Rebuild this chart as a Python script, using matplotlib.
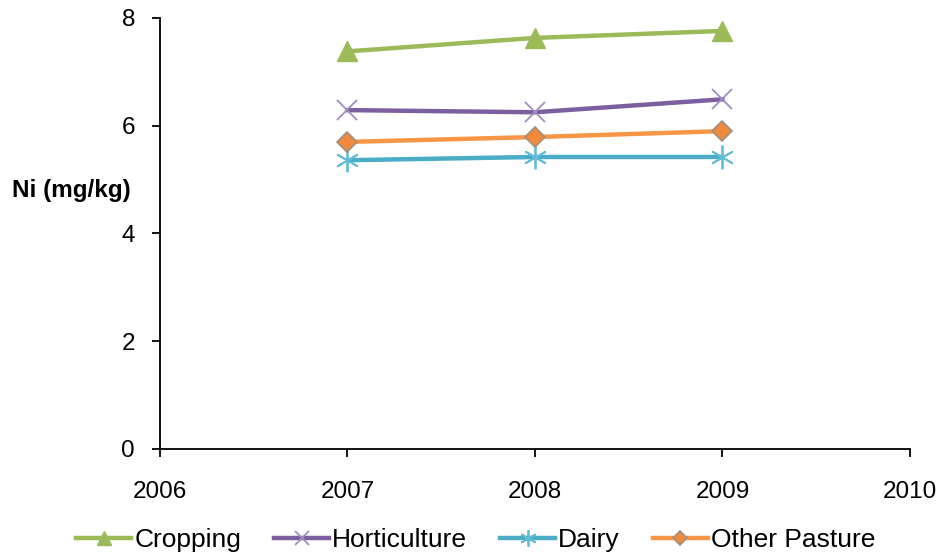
import matplotlib
matplotlib.use("Agg")
import matplotlib.pyplot as plt

plt.rcParams['font.family'] = ['Liberation Sans', 'DejaVu Sans']

years = [2007, 2008, 2009]
cropping = [7.38, 7.63, 7.76]
horticulture = [6.29, 6.25, 6.49]
dairy = [5.36, 5.42, 5.42]
other_pasture = [5.70, 5.79, 5.90]

x_ticks = [2006, 2007, 2008, 2009, 2010]
y_ticks = [0, 2, 4, 6, 8]

fig = plt.figure(figsize=(9.39, 5.55), dpi=100)
ax = fig.add_axes([0.1704, 0.191, 0.7986, 0.7766])

lw = 3.2
ax.plot(years, cropping, color='#9BBB59', lw=lw, marker='^', ms=15,
        mfc='#9BBB59', mec='#9BBB59', label='Cropping', zorder=3)
ax.plot(years, horticulture, color='#7D5FA0', lw=lw, marker='x', ms=15,
        mew=1.3, mec='#9F8DBD', label='Horticulture', zorder=3)
ax.plot(years, dairy, color='#4BACC6', lw=lw, marker=(6, 2, 0), ms=17,
        mew=1.3, mec='#62BCD6', label='Dairy', zorder=3)
ax.plot(years, other_pasture, color='#F79646', lw=lw, marker='D', ms=10,
        mfc='#F08A3C', mec='#A09080', mew=1.2, label='Other Pasture', zorder=4)

ax.set_xlim(2006, 2010)
ax.set_ylim(0, 8)
ax.set_xticks(x_ticks)
ax.set_yticks(y_ticks)
ax.tick_params(axis='both', direction='out', length=6, width=1.3,
               labelsize=17.5, colors='black')
ax.tick_params(axis='x', pad=17)
ax.tick_params(axis='y', pad=12)

for side in ('top', 'right'):
    ax.spines[side].set_visible(False)
for side in ('left', 'bottom'):
    ax.spines[side].set_linewidth(1.3)

ax.text(-0.198, 0.6, 'Ni (mg/kg)', transform=ax.transAxes, fontsize=17.5,
        fontweight='bold', ha='left', va='center')

ax.legend(loc='center', bbox_to_anchor=(0.421, -0.211), ncol=4, frameon=False,
          fontsize=19, handlelength=2.08, handletextpad=0.12,
          columnspacing=1.25, borderaxespad=0, borderpad=0, markerscale=0.7)

fig.savefig('out.png', dpi=100)
